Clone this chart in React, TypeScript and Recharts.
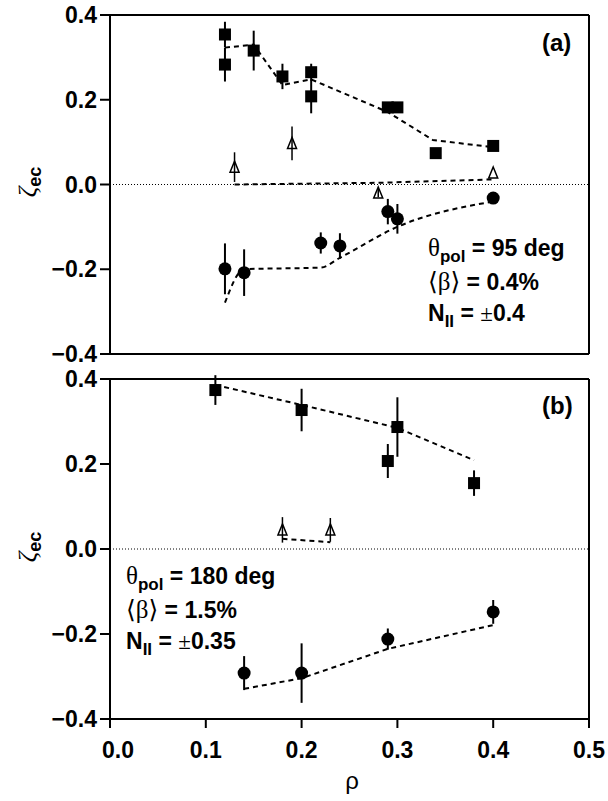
import React from "react";
import { ComposedChart, Scatter, Line, XAxis, YAxis, ErrorBar, ReferenceLine } from "recharts";

// panel (a): theta_pol = 95 deg
const rhoSqA = [0.12, 0.12, 0.15, 0.18, 0.21, 0.21, 0.29, 0.3, 0.34, 0.4];
const zetaSqA = [0.354, 0.283, 0.316, 0.255, 0.265, 0.208, 0.182, 0.182, 0.074, 0.091];
const errSqA = [0.03, 0.04, 0.047, 0.03, 0.02, 0.04, 0, 0, 0, 0];
const rhoTriA = [0.13, 0.19, 0.28, 0.4];
const zetaTriA = [0.041, 0.097, -0.02, 0.027];
const errTriA = [0.035, 0.04, 0.01, 0];
const rhoCircA = [0.12, 0.14, 0.22, 0.24, 0.29, 0.3, 0.4];
const zetaCircA = [-0.199, -0.208, -0.138, -0.145, -0.064, -0.081, -0.032];
const errCircA = [0.06, 0.055, 0.025, 0.03, 0.03, 0.035, 0];
const rhoFitSqA = [0.12, 0.15, 0.18, 0.21, 0.29, 0.337, 0.4];
const zetaFitSqA = [0.323, 0.33, 0.235, 0.248, 0.171, 0.105, 0.088];
const rhoFitTriA = [0.13, 0.28, 0.4];
const zetaFitTriA = [0.0, 0.004, 0.012];
const rhoFitCircA = [0.12, 0.14, 0.22, 0.24, 0.3, 0.4];
const zetaFitCircA = [-0.279, -0.2, -0.196, -0.173, -0.1, -0.04];

// panel (b): theta_pol = 180 deg
const rhoSqB = [0.11, 0.2, 0.29, 0.3, 0.38];
const zetaSqB = [0.374, 0.327, 0.207, 0.287, 0.155];
const errSqB = [0.035, 0.05, 0.04, 0.07, 0.03];
const rhoTriB = [0.18, 0.23];
const zetaTriB = [0.045, 0.045];
const errTriB = [0.03, 0.028];
const rhoCircB = [0.14, 0.2, 0.29, 0.4];
const zetaCircB = [-0.292, -0.292, -0.212, -0.148];
const errCircB = [0.04, 0.07, 0.025, 0.028];
const rhoFitSqB = [0.11, 0.2, 0.3, 0.38];
const zetaFitSqB = [0.386, 0.339, 0.285, 0.209];
const rhoFitTriB = [0.18, 0.23];
const zetaFitTriB = [0.024, 0.016];
const rhoFitCircB = [0.14, 0.2, 0.29, 0.4];
const zetaFitCircB = [-0.329, -0.304, -0.235, -0.179];

const xTicks = [0, 0.1, 0.2, 0.3, 0.4, 0.5];
const yTicks = [-0.4, -0.2, 0, 0.2, 0.4];

const pts = (xs: number[], ys: number[], es?: number[]) =>
  xs.map((x, i) => ({ x, y: ys[i], e: es ? es[i] : 0 }));

const sans = "'Liberation Sans', Arial, Helvetica, sans-serif";
const serif = "'Liberation Serif', 'Times New Roman', 'DejaVu Serif', serif";
const tickFont = { fill: "#000", fontSize: 23, fontWeight: 700, fontFamily: sans };
const axisLine = { stroke: "#000", strokeWidth: 2 };

function fmt(v: number) {
  return v < 0 ? "\u2212" + Math.abs(v).toFixed(1) : v.toFixed(1);
}

const SquareDot = (p: any) => <rect x={p.cx - 6} y={p.cy - 6} width={12} height={12} fill="#000" />;
const CircleDot = (p: any) => <circle cx={p.cx} cy={p.cy} r={6.5} fill="#000" />;
const TriangleDot = (p: any) => (
  <path
    d={`M${p.cx},${p.cy - 6} L${p.cx + 4.5},${p.cy + 5} L${p.cx - 4.5},${p.cy + 5} Z`}
    fill="none"
    stroke="#000"
    strokeWidth={1.5}
  />
);

const XTick = (p: any) => (
  <text
    x={p.x + (p.payload.value === 0 ? 8 : 0)}
    y={p.y}
    dy="0.71em"
    textAnchor="middle"
    {...tickFont}
  >
    {p.payload.value.toFixed(1)}
  </text>
);

interface PanelProps {
  top: number;
  height: number;
  marginTop: number;
  lower: boolean;
  sq: { x: number; y: number; e: number }[];
  tri: { x: number; y: number; e: number }[];
  circ: { x: number; y: number; e: number }[];
  fits: { x: number; y: number; e: number }[][];
}

function Panel({ top, height, marginTop, lower, sq, tri, circ, fits }: PanelProps) {
  return (
    <div style={{ position: "absolute", left: 0, top }}>
      <ComposedChart
        width={608}
        height={height}
        margin={{ top: marginTop, right: 19, bottom: lower ? 22 : 16, left: 0 }}
      >
        <XAxis
          dataKey="x"
          type="number"
          domain={[0, 0.5]}
          ticks={xTicks}
          allowDataOverflow
          height={lower ? 60 : 16}
          mirror={!lower}
          tickSize={lower ? 9 : 11}
          tickMargin={14}
          tick={lower ? <XTick /> : false}
          axisLine={axisLine}
          tickLine={axisLine}
        />
        <YAxis
          dataKey="y"
          type="number"
          domain={[-0.4, 0.4]}
          ticks={yTicks}
          allowDataOverflow
          width={110}
          tickSize={10}
          tickMargin={3}
          tick={tickFont}
          tickFormatter={fmt}
          axisLine={axisLine}
          tickLine={axisLine}
        />
        <ReferenceLine y={0} stroke="#000" strokeWidth={1} strokeDasharray="1 2" />
        <ReferenceLine y={0.4} stroke="#000" strokeWidth={2} />
        <ReferenceLine x={0.5} stroke="#000" strokeWidth={2} />
        {fits.map((f, i) => (
          <Line
            key={i}
            data={f}
            dataKey="y"
            type={i === 2 && !lower ? "monotone" : "linear"}
            stroke="#000"
            strokeWidth={2}
            strokeDasharray="5 4"
            dot={false}
            activeDot={false}
            isAnimationActive={false}
          />
        ))}
        <Scatter data={sq} shape={SquareDot} isAnimationActive={false}>
          <ErrorBar dataKey="e" direction="y" width={0} stroke="#000" strokeWidth={2} />
        </Scatter>
        <Scatter data={tri} shape={TriangleDot} isAnimationActive={false}>
          <ErrorBar dataKey="e" direction="y" width={0} stroke="#000" strokeWidth={1.5} />
        </Scatter>
        <Scatter data={circ} shape={CircleDot} isAnimationActive={false}>
          <ErrorBar dataKey="e" direction="y" width={0} stroke="#000" strokeWidth={2} />
        </Scatter>
      </ComposedChart>
    </div>
  );
}

const sub = { fontSize: 17, position: "relative" as const, top: 6 };

function Notes({ left, top, theta, beta, npar }: { left: number; top: number; theta: string; beta: string; npar: string }) {
  return (
    <div
      style={{
        position: "absolute",
        left,
        top,
        fontFamily: sans,
        fontWeight: 700,
        fontSize: 23,
        lineHeight: "31px",
        whiteSpace: "nowrap",
        color: "#000",
      }}
    >
      <div>
        <span style={{ fontFamily: serif, fontWeight: 400, fontSize: 25 }}>θ</span>
        <span style={sub}>pol</span> = {theta}
      </div>
      <div>
        <span style={{ fontFamily: serif, fontWeight: 400, fontSize: 25 }}>⟨β⟩</span> = {beta}
      </div>
      <div>
        N<span style={sub}>II</span> = <span style={{ fontFamily: serif, fontWeight: 400 }}>±</span>
        {npar}
      </div>
    </div>
  );
}

function YLabel({ cy }: { cy: number }) {
  return (
    <div
      style={{
        position: "absolute",
        left: 28,
        top: cy,
        transform: "translate(-50%, -50%) rotate(-90deg)",
        whiteSpace: "nowrap",
        color: "#000",
      }}
    >
      <span style={{ fontFamily: serif, fontStyle: "italic", fontSize: 26 }}>ζ</span>
      <span style={{ fontFamily: sans, fontWeight: 700, fontSize: 18, position: "relative", top: 5 }}>ec</span>
    </div>
  );
}

const tag = {
  position: "absolute" as const,
  left: 542,
  fontFamily: sans,
  fontWeight: 700,
  fontSize: 24,
  lineHeight: "31px",
  color: "#000",
};

export default function App() {
  return (
    <div style={{ position: "absolute", left: 0, top: 0, width: 608, height: 801, background: "#fff" }}>
      <Panel
        top={0}
        height={370}
        marginTop={15}
        lower={false}
        sq={pts(rhoSqA, zetaSqA, errSqA)}
        tri={pts(rhoTriA, zetaTriA, errTriA)}
        circ={pts(rhoCircA, zetaCircA, errCircA)}
        fits={[pts(rhoFitSqA, zetaFitSqA), pts(rhoFitTriA, zetaFitTriA), pts(rhoFitCircA, zetaFitCircA)]}
      />
      <Panel
        top={360}
        height={441}
        marginTop={19}
        lower
        sq={pts(rhoSqB, zetaSqB, errSqB)}
        tri={pts(rhoTriB, zetaTriB, errTriB)}
        circ={pts(rhoCircB, zetaCircB, errCircB)}
        fits={[pts(rhoFitSqB, zetaFitSqB), pts(rhoFitTriB, zetaFitTriB), pts(rhoFitCircB, zetaFitCircB)]}
      />
      <div style={{ ...tag, top: 27 }}>(a)</div>
      <div style={{ ...tag, top: 390 }}>(b)</div>
      <Notes left={428} top={232} theta="95 deg" beta="0.4%" npar="0.4" />
      <Notes left={126} top={560} theta="180 deg" beta="1.5%" npar="0.35" />
      <YLabel cy={182} />
      <YLabel cy={547} />
      <div
        style={{
          position: "absolute",
          left: 352,
          top: 781,
          transform: "translate(-50%, -50%)",
          fontFamily: sans,
          fontSize: 24,
          color: "#000",
        }}
      >
        ρ
      </div>
    </div>
  );
}
